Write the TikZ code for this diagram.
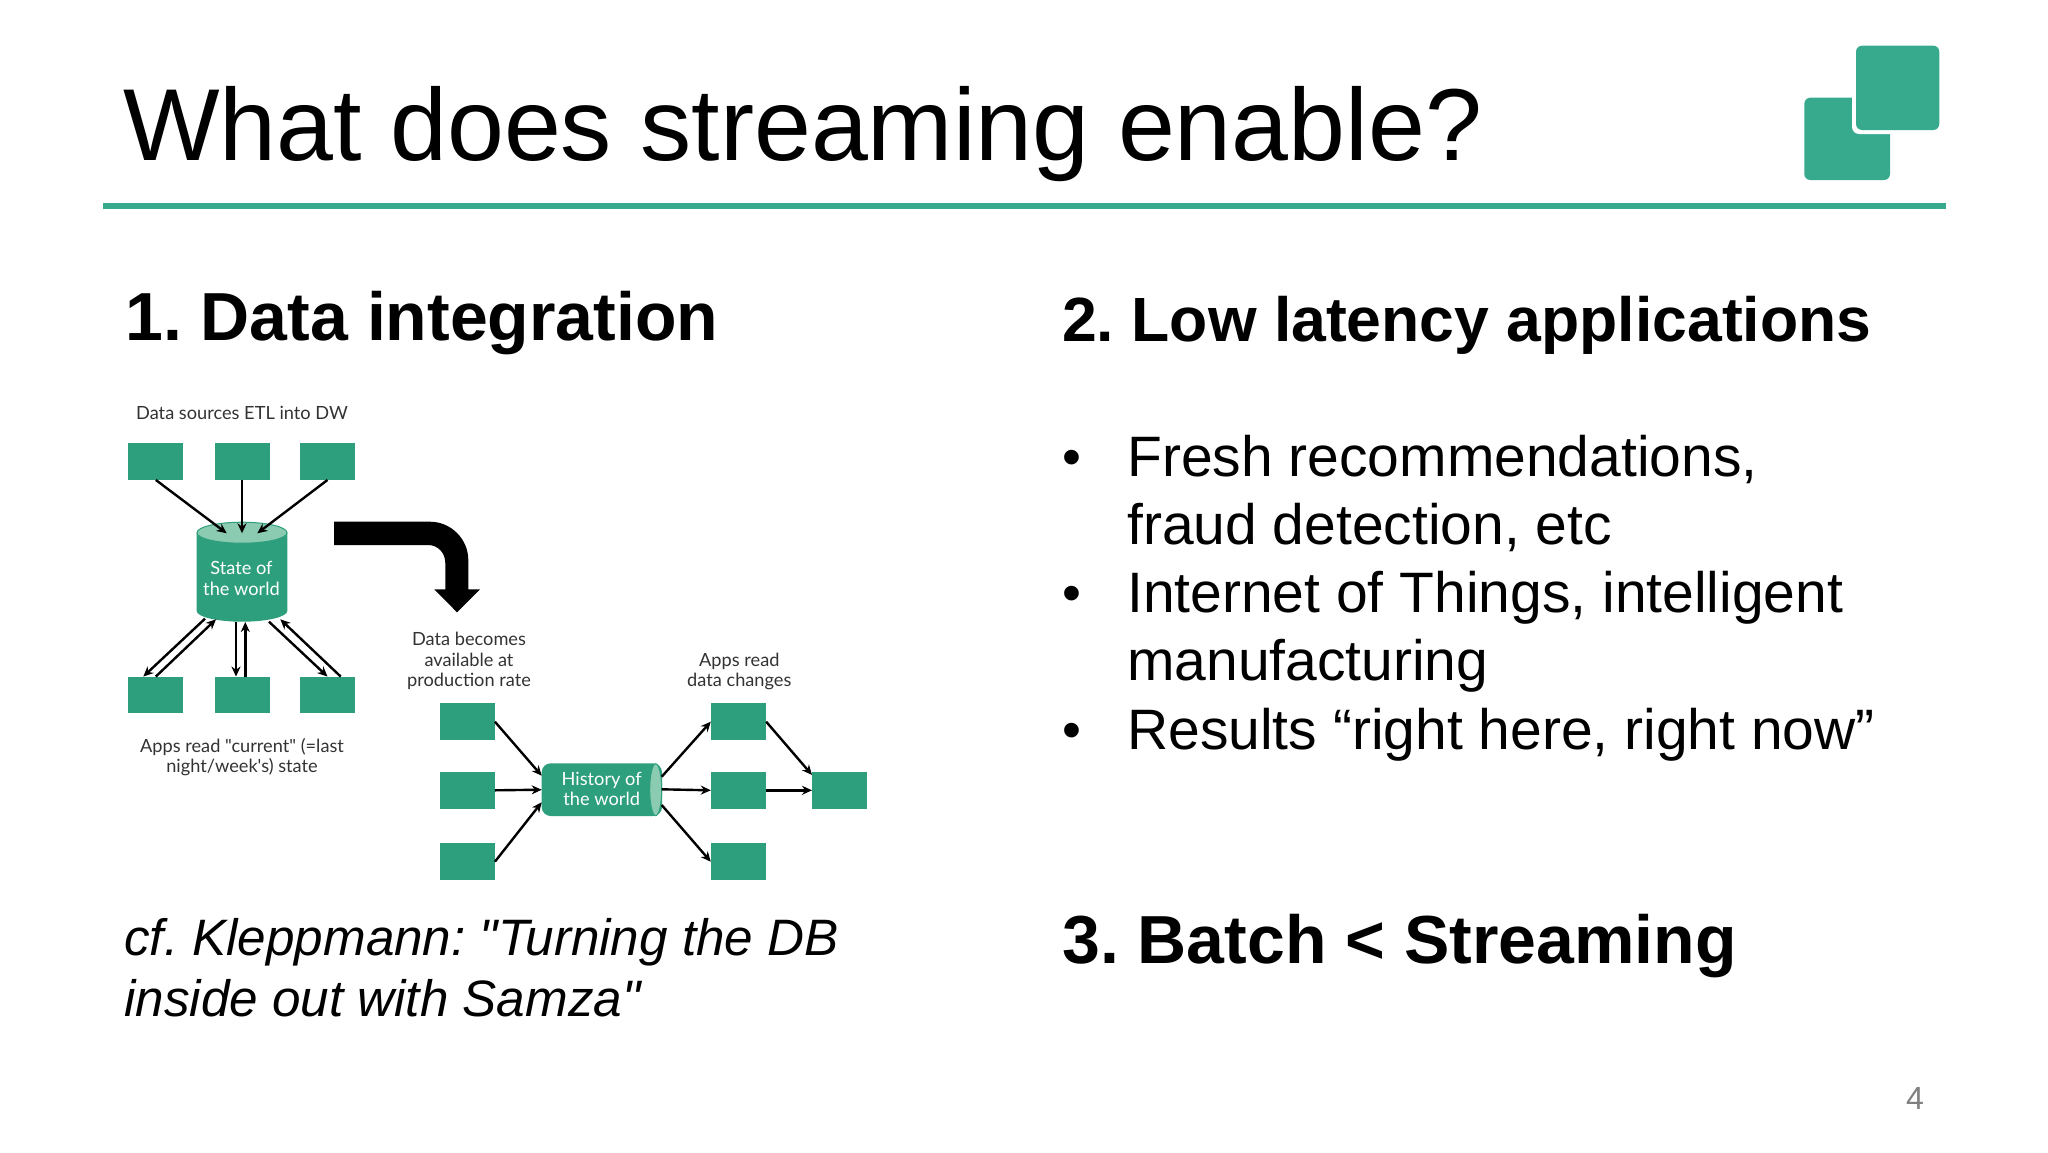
\documentclass[tikz,border=0pt]{standalone}
\usepackage{fontspec}
\setmainfont{Liberation Sans}[Ligatures=TeXOff]
\newfontfamily\lato{Lato}[Ligatures=TeXOff]
\usetikzlibrary{arrows.meta}
\definecolor{boxgreen}{HTML}{2E9F7C}
\definecolor{lightgreen}{HTML}{8BCBB2}
\definecolor{logogreen}{HTML}{37AA8E}
\definecolor{labelgrey}{HTML}{333333}
\newcommand{\fsz}[2]{\fontsize{#1pt}{#2pt}\selectfont}
\frenchspacing
\tikzset{
  x=1pt,y=-1pt,
  appbox/.style={fill=boxgreen,minimum width=55pt,minimum height=36.5pt,inner sep=0pt},
  conn/.style={draw=black,line width=2.4pt,-{Stealth[length=10pt,width=9pt]},shorten >=0pt},
  lbl/.style={font=\lato\fsz{18.2}{20.5},text=labelgrey,align=center,anchor=south,inner sep=0pt,text depth=0pt},
  inlbl/.style={lbl,text=white},
  heading/.style={font=\bfseries\fsz{68}{80},anchor=base west,inner sep=0pt},
  body/.style={font=\fsz{57}{68.3},align=left,anchor=south west,inner sep=0pt,text depth=0pt},
  dot/.style={font=\fsz{54}{68.3},anchor=base,inner sep=0pt},
}
\begin{document}
\begin{tikzpicture}
\useasboundingbox (0,0) rectangle (2048,1152);
\fill[white] (0,0) rectangle (2048,1152);
% header
\node[font=\fsz{102.3}{110},anchor=base west,inner sep=0pt] (title) at (123,160) {What does streaming enable?};
\fill[logogreen,draw=none,rounded corners=6pt] (1804.3,97.7) rectangle (1890,180);
\fill[white,rounded corners=7pt] (1852,41) rectangle (1943,134);
\fill[logogreen,rounded corners=6pt] (1856,45.7) rectangle (1939.3,130);
\fill[logogreen] (103,203) rectangle (1946,209);
% headings
\node[heading] (h1) at (125,340) {1. Data integration};
\node[heading,font=\bfseries\fsz{62.5}{70}] (h2) at (1062,341.5) {2. Low latency applications};
\node[heading] (h3) at (1062,963) {3. Batch < Streaming};
% bullets
\node[dot] (d1) at (1072,475.5) {•};
\node[dot] (d2) at (1072,611) {•};
\node[dot] (d3) at (1072,748.5) {•};
\node[body] (b1) at (1127,545) {Fresh recommendations,\\fraud detection, etc};
\node[body] (b2) at (1127,681) {Internet of Things, intelligent\\manufacturing};
\node[body] (b3) at (1127,750) {Results “right here, right now”};
% citation
\node[font=\itshape\fsz{51.2}{61},align=left,anchor=south west,inner sep=0pt,text depth=0pt] (cf) at (124,1017) {cf. Kleppmann: "Turning the DB\\inside out with Samza"};
\node[font=\fsz{32}{36},text=black!50,anchor=base,inner sep=0pt] (page) at (1915,1109) {4};
% left diagram
\node[lbl] (l1) at (242,419.5) {Data sources ETL into DW};
\node[appbox] (s1) at (155.8,461.5) {};
\node[appbox] (s2) at (242,461.5) {};
\node[appbox] (s3) at (327.5,461.5) {};
\node[appbox] (r1) at (155.8,695) {};
\node[appbox] (r2) at (242,695) {};
\node[appbox] (r3) at (327.5,695) {};
\node[lbl] (l2) at (242,773) {Apps read "current" (=last\\night/week's) state};
% cylinder
\fill[boxgreen] (196.7,532.7) -- (196.7,611) .. controls (196.7,616.8) and (217,621.7) .. (242,621.7) .. controls (267,621.7) and (287.3,616.8) .. (287.3,611) -- (287.3,532.7) -- cycle;
\fill[lightgreen,draw=boxgreen,line width=1pt] (242,532.7) ellipse [x radius=45pt,y radius=10.5pt];
\node[inlbl] (dbtext) at (241.5,595.5) {State of\\the world};
\coordinate (ta) at (226.7,533.3);
\coordinate (tb) at (242,533.3);
\coordinate (tc) at (257.3,533.3);
\coordinate (ba) at (205,618.7);
\coordinate (bb) at (216,619.3);
\coordinate (bc) at (236,622);
\coordinate (bd) at (245.3,622);
\coordinate (be) at (269,621.7);
\coordinate (bf) at (280.3,619.3);
\draw[conn] (s1.south) -- (ta);
\draw[conn] (s2.south) -- (tb);
\draw[conn] (s3.south) -- (tc);
\draw[conn] (ba) -- (r1.north -| 143.3,0);
\draw[conn] (r1.north) -- (bb);
\draw[conn] (bc) -- (r2.north -| bc);
\draw[conn] (r2.north -| bd) -- (bd);
\draw[conn] (be) -- (r3.north);
\draw[conn] (r3.north -| 340.7,0) -- (bf);
% big arrow
\fill[black] (334,521.7) -- (430,521.7) .. controls (451,521.7) and (468.3,539) .. (468.3,560) -- (468.3,589.3) -- (480,589.3) -- (457,612.3) -- (434.3,589.3) -- (445.3,589.3) -- (445.3,563) .. controls (445.3,553) and (438,545) .. (428,545) -- (334,545) -- cycle;
% right diagram
\node[lbl] (l3) at (469,687) {Data becomes\\available at\\production rate};
\node[lbl] (l4) at (739.3,687) {Apps read\\data changes};
\node[appbox] (p1) at (467.2,721.7) {};
\node[appbox] (p2) at (467.2,790.3) {};
\node[appbox] (p3) at (467.2,861.7) {};
\node[appbox] (c1) at (738.5,721.7) {};
\node[appbox] (c2) at (738.5,790.3) {};
\node[appbox] (c3) at (738.5,861.7) {};
\node[appbox] (d) at (839.7,790.3) {};
\fill[boxgreen,rounded corners=9pt] (541.7,763.3) rectangle (662,816);
\fill[lightgreen,draw=boxgreen,line width=1pt] (655.7,789.7) ellipse [x radius=6pt,y radius=26pt];
\node[inlbl] (logtext) at (601.7,806) {History of\\the world};
\coordinate (la) at (541.7,775.7);
\coordinate (lb) at (541.7,789.7);
\coordinate (lc) at (541.7,802.3);
\coordinate (ra) at (661.7,776.7);
\coordinate (rb) at (661.7,789.3);
\coordinate (rc) at (661.7,805);
\draw[conn] (p1.east) -- (la);
\draw[conn] (p2.east) -- (lb);
\draw[conn] (p3.east) -- (lc);
\draw[conn] (ra) -- (c1.west);
\draw[conn] (rb) -- (c2.west);
\draw[conn] (rc) -- (c3.west);
\draw[conn] (c1.east) -- (d.151);
\draw[conn] (c2.east) -- (d.west);
\end{tikzpicture}
\end{document}
